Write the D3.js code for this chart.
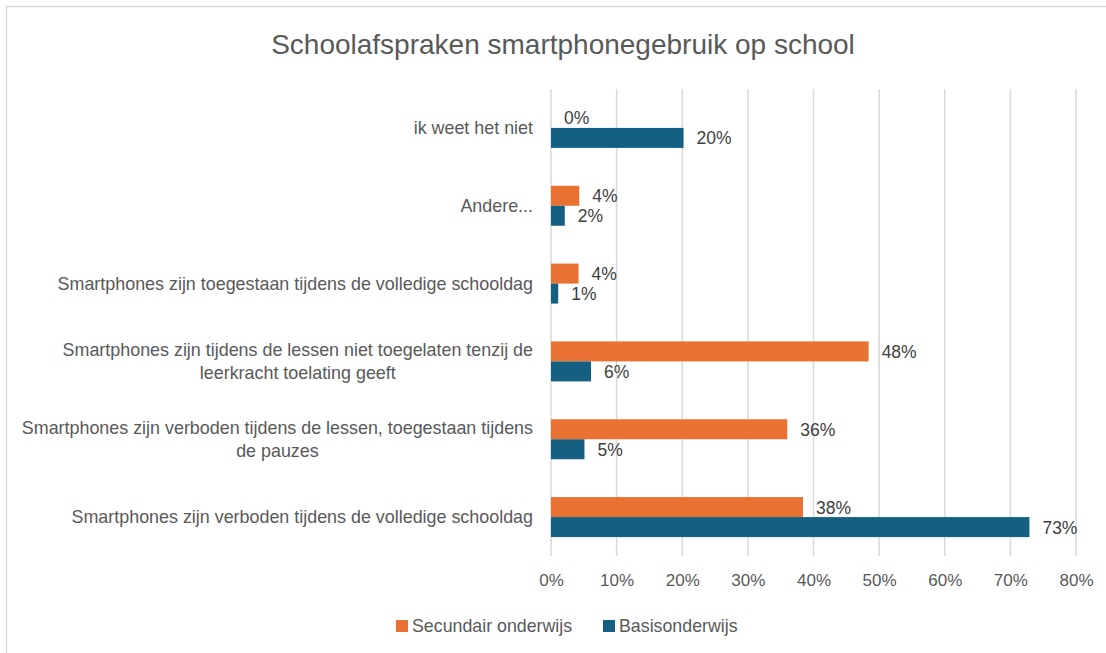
<!DOCTYPE html>
<html>
<head>
<meta charset="utf-8">
<script src="https://cdn.jsdelivr.net/npm/d3@7"></script>
<style>
  body { margin: 0; background: #fff; }
  text { font-family: "Liberation Sans", Arial, sans-serif; }
</style>
</head>
<body>
<div id="chart"></div>
<script>
// datos:
const categories = [
  "ik weet het niet",
  "Andere...",
  "Smartphones zijn toegestaan tijdens de volledige schooldag",
  "Smartphones zijn tijdens de lessen niet toegelaten tenzij de|leerkracht toelating geeft",
  "Smartphones zijn verboden tijdens de lessen, toegestaan tijdens|de pauzes",
  "Smartphones zijn verboden tijdens de volledige schooldag"
]
const seriesNames = ["Secundair onderwijs", "Basisonderwijs"]
const secundair = [0.0, 4.3, 4.2, 48.4, 36.0, 38.4]
const basis = [20.2, 2.1, 1.1, 6.1, 5.1, 72.9]
const ticks = [0, 10, 20, 30, 40, 50, 60, 70, 80]
const colors = ["#E97132", "#156082"]

// constantes:
const width = 1106
const height = 653
const margins = { top: 89, left: 551, right: 30, bottom: 97 }
const eWidth = 1076 - margins.left
const eHeight = height - margins.top - margins.bottom

let svg = d3.select('div#chart').append('svg').attr('width', width).attr('height', height)

// borde del gráfico
svg.append('rect').attr('x', 6.5).attr('y', 6.5).attr('width', width).attr('height', height)
  .attr('fill', 'none').attr('stroke', '#d9d9d9').attr('stroke-width', 1.5)

// título
svg.append('text').attr('x', 563).attr('y', 54).attr('text-anchor', 'middle')
  .attr('font-size', 28).attr('fill', '#595959')
  .text("Schoolafspraken smartphonegebruik op school")

let elementGroup = svg.append('g').attr('transform', `translate(${margins.left}, ${margins.top})`)

// escalas:
let x = d3.scaleLinear().range([0, eWidth]).domain([0, 80])
let y = d3.scaleBand().range([0, eHeight]).domain(categories)
let sub = d3.scaleBand().range([y.bandwidth() / 2 - 20, y.bandwidth() / 2 + 20]).domain(seriesNames)

// rejilla
elementGroup.selectAll('line.grid').data(ticks).enter().append('line')
  .attr('x1', d => x(d)).attr('x2', d => x(d))
  .attr('y1', 0).attr('y2', eHeight)
  .attr('stroke', '#d9d9d9').attr('stroke-width', 1.5)

// eje x
let xAxis = d3.axisBottom(x).tickValues(ticks).tickFormat(d => d + '%').tickSize(0).tickPadding(25)
let xAxisGroup = elementGroup.append('g').attr('transform', `translate(0, ${eHeight})`).call(xAxis)
xAxisGroup.select('.domain').remove()
xAxisGroup.selectAll('text').attr('font-size', 17).attr('fill', '#595959')
  .attr('font-family', '"Liberation Sans", Arial, sans-serif').attr('dy', '0.3em')

// barras
const table = categories.map((c, i) => ({ cat: c, vals: [secundair[i], basis[i]] }))
let groups = elementGroup.selectAll('g.cat').data(table).enter().append('g')
  .attr('transform', d => `translate(0, ${y(d.cat)})`)

groups.each(function(d) {
  let g = d3.select(this)
  d.vals.forEach((v, k) => {
    g.append('rect')
      .attr('x', x(0)).attr('y', sub(seriesNames[k]))
      .attr('width', x(v)).attr('height', sub.bandwidth())
      .attr('fill', colors[k])
    g.append('text')
      .attr('x', x(v) + 13).attr('y', sub(seriesNames[k]) + sub.bandwidth() / 2 + 6.5)
      .attr('font-size', 17.5).attr('fill', '#404040')
      .text(Math.round(v) + '%')
  })
})

// etiquetas de categoría
let labelRight = 533 - margins.left
groups.each(function(d) {
  let lines = d.cat.split('|')
  let t = d3.select(this).append('text').attr('font-size', 17.9).attr('fill', '#595959')
  let lh = 23
  let y0 = y.bandwidth() / 2 - (lines.length - 1) * lh / 2 + 6
  let spans = lines.map((l, i) => t.append('tspan').attr('y', y0 + i * lh).text(l))
  let w = d3.max(spans, s => s.node().getComputedTextLength())
  spans.forEach(s => s.attr('x', labelRight - w / 2).attr('text-anchor', 'middle'))
})

// leyenda
let legend = svg.append('g')
let lx = [396, 603]
seriesNames.forEach((n, k) => {
  legend.append('rect').attr('x', lx[k]).attr('y', 620).attr('width', 12).attr('height', 12).attr('fill', colors[k])
  legend.append('text').attr('x', lx[k] + 16).attr('y', 632).attr('font-size', 17.8).attr('fill', '#595959').text(n)
})
</script>
</body>
</html>
